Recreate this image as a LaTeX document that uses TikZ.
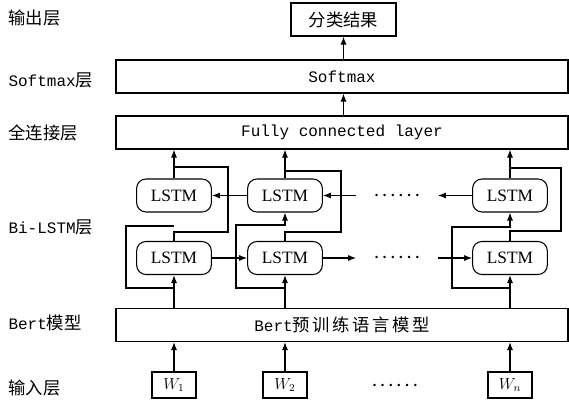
\documentclass[tikz,border=0pt]{standalone}
\usepackage{fontspec}
\setmainfont{Liberation Serif}
\newfontfamily\cjk{Noto Sans CJK SC}
\newfontfamily\cjkwide[LetterSpace=15]{Noto Sans CJK SC}
\newfontfamily\mono{Liberation Mono}
\newcommand\zh[1]{{\cjk\fontsize{13}{15}\selectfont #1}}
\usetikzlibrary{positioning,arrows.meta}

\begin{document}
\begin{tikzpicture}[x=0.75pt,y=-0.75pt,line width=0.8pt,>={Latex[length=6pt,width=4.5pt]},font=\fontsize{12}{14}\selectfont,layer/.style={draw,minimum width=339pt,minimum height=24.75pt,inner sep=0pt},lstm/.style={draw,rounded corners=7pt,minimum width=56pt,minimum height=24.75pt,inner sep=0pt,font=\fontsize{13}{15}\selectfont},word/.style={draw,minimum width=33pt,minimum height=19.5pt,inner sep=0pt},tag/.style={anchor=west,inner sep=0pt},gap/.style={inner xsep=13pt,inner ysep=0pt,font=\fontsize{13}{15}\selectfont\boldmath}]
\useasboundingbox (0,0) rectangle (569,400);
\def\xa{174}\def\xb{285}\def\xc{510}\def\yup{195.5}\def\ylow{258}
\node[tag] (tout) at (8,18) {\zh{输出层}};\node[tag] (tsoft) at (8,80) {\mono Softmax\zh{层}};\node[tag] (tfc) at (8,133) {\zh{全连接层}};\node[tag] (tlstm) at (8,227) {\mono Bi-LSTM\zh{层}};\node[tag] (tbert) at (8,323) {\mono Bert\zh{模型}};\node[tag] (tin) at (8,388) {\zh{输入层}};
\node[draw,minimum width=78.75pt,minimum height=24.75pt,inner sep=0pt] (result) at (343.5,19.5) {\zh{分类结果}};
\node[layer] (softmax) at (342,76.5) {\mono Softmax};
\node[layer] (fc) at (342,132.5) {\mono Fully connected layer};
\node[layer] (bert) at (342,325) {\mono Bert{\cjkwide\fontsize{13}{15}\selectfont 预训练语言模型}};
\node[lstm] (u1) at (\xa,\yup) {LSTM};\node[lstm] (u2) at (\xb,\yup) {LSTM};\node[lstm] (u4) at (\xc,\yup) {LSTM};
\node[lstm] (l1) at (\xa,\ylow) {LSTM};\node[lstm] (l2) at (\xb,\ylow) {LSTM};\node[lstm] (l4) at (\xc,\ylow) {LSTM};
\node[gap] (dotu) at (397,\yup) {$\cdots\cdots$};\node[gap] (dotl) at (397,\ylow) {$\cdots\cdots$};
\node[word] (w1) at (\xa,385) {$W_1$};\node[word] (w2) at (\xb,385) {$W_2$};\node[word] (wn) at (\xc,385) {$W_n$};
\node[gap] (dotw) at (395,386) {$\cdots\cdots$};
\draw[->] (fc.north -| result) -- (softmax.south -| result);
\draw[->] (softmax.north -| result) -- (result.south);
\draw[->] (w1.north) -- (bert.south -| w1);\draw[->] (w2.north) -- (bert.south -| w2);\draw[->] (wn.north) -- (bert.south -| wn);
\draw[->] (bert.north -| l1) -- (l1.south);\draw[->] (bert.north -| l2) -- (l2.south);\draw[->] (bert.north -| l4) -- (l4.south);
\draw[->] (u1.north) -- (fc.south -| u1);\draw[->] (u2.north) -- (fc.south -| u2);\draw[->] (u4.north) -- (fc.south -| u4);
\draw (l1.north) -- ++(0,-9) -| (\xa+54,167) -- (\xa,167);
\draw (l2.north) -- ++(0,-9) -| (\xb+56,171) -- (\xb,171);
\draw (l4.north) -- ++(0,-10) -| (\xc+51,168) -- (\xc,168);
\coordinate (c1) at (\xa,226);
\draw (bert.north -| l1) ++(0,-20) -| (\xa-48,226) -- (c1);
\draw[->] (bert.north -| l2) ++(0,-20) -| (\xb-49,225) -| (u2.south);
\draw[->] (bert.north -| l4) ++(0,-20) -| (\xc-58,227) -| (u4.south);
\draw[->] (l1.east) -- (l2.west);\draw[->] (u2.west) -- (u1.east);
\draw[->] (l2.east) -- (dotl.west);\draw[->] (dotl.east) -- (l4.west);
\draw[->] (dotu.west) -- (u2.east);\draw[->] (u4.west) -- (dotu.east);
\end{tikzpicture}
\end{document}
